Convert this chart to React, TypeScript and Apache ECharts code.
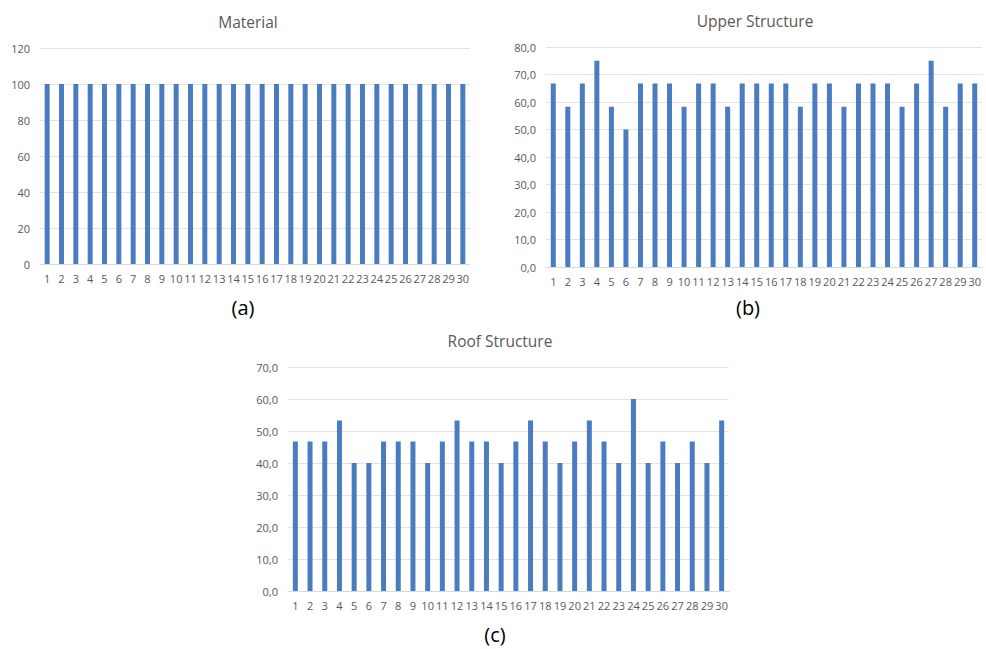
import React, { useEffect, useRef } from "react";
import * as echarts from "echarts";

const categories = Array.from({ length: 30 }, (_, i) => String(i + 1));
const materialValues = [100,100,100,100,100,100,100,100,100,100,100,100,100,100,100,100,100,100,100,100,100,100,100,100,100,100,100,100,100,100];
const upperValues = [66.7,58.3,66.7,75,58.3,50,66.7,66.7,66.7,58.3,66.7,66.7,58.3,66.7,66.7,66.7,66.7,58.3,66.7,66.7,58.3,66.7,66.7,66.7,58.3,66.7,75,58.3,66.7,66.7];
const roofValues = [46.7,46.7,46.7,53.3,40,40,46.7,46.7,46.7,40,46.7,53.3,46.7,46.7,40,46.7,53.3,46.7,40,46.7,53.3,46.7,40,60,40,46.7,40,46.7,40,53.3];
const titles = ["Material", "Upper Structure", "Roof Structure"];
const captions = ["(a)", "(b)", "(c)"];

const FONT = "'Open Sans', 'Noto Sans', sans-serif";
const BAR = "#4a7cc0";
const TXT = "#595959";

export default function App() {
  const ref = useRef<HTMLDivElement>(null);
  useEffect(() => {
    if (!ref.current) return;
    const chart = echarts.init(ref.current, undefined, { renderer: "svg" });
    const grids = [
      { left: 40, right: 516, top: 48, bottom: 385 },
      { left: 546, right: 4, top: 47, bottom: 382 },
      { left: 288, right: 257, top: 367, bottom: 58 },
    ];
    const yCfg = [
      { max: 120, interval: 20, fmt: (v: number) => String(v) },
      { max: 80, interval: 10, fmt: (v: number) => v.toFixed(1).replace(".", ",") },
      { max: 70, interval: 10, fmt: (v: number) => v.toFixed(1).replace(".", ",") },
    ];
    const data = [materialValues, upperValues, roofValues];
    const titlePos = [
      { x: 243, y: 9 },
      { x: 750, y: 8 },
      { x: 495, y: 328 },
    ];
    const capPos = [
      { x: 243, y: 297 },
      { x: 748, y: 297 },
      { x: 495, y: 624 },
    ];
    chart.setOption({
      animation: false,
      backgroundColor: "#ffffff",
      title: titlePos.map((p, i) => ({
        text: titles[i],
        left: p.x,
        top: p.y,
        textAlign: "center",
        textStyle: { fontFamily: FONT, fontSize: 15.5, fontWeight: "normal", color: TXT },
      })),
      graphic: capPos.map((p, i) => ({
        type: "text",
        x: p.x,
        y: p.y,
        style: {
          text: captions[i],
          fontFamily: FONT,
          fontSize: 20,
          fill: "#000000",
          align: "center",
          verticalAlign: "top",
        },
      })),
      grid: grids,
      xAxis: grids.map((_, i) => ({
        type: "category",
        gridIndex: i,
        data: categories,
        axisTick: { show: false },
        axisLine: { lineStyle: { color: "#d9d9d9" } },
        axisLabel: { interval: 0, fontFamily: FONT, fontSize: 11, color: TXT, margin: 9 },
      })),
      yAxis: yCfg.map((c, i) => ({
        type: "value",
        gridIndex: i,
        min: 0,
        max: c.max,
        interval: c.interval,
        axisLine: { show: false },
        axisTick: { show: false },
        splitLine: { lineStyle: { color: "#e3e3e3" } },
        axisLabel: { fontFamily: FONT, fontSize: 11, color: TXT, margin: 10, formatter: c.fmt },
      })),
      series: data.map((d, i) => ({
        type: "bar",
        xAxisIndex: i,
        yAxisIndex: i,
        data: d,
        barWidth: 5,
        itemStyle: { color: BAR },
      })),
    });
    return () => chart.dispose();
  }, []);
  return (
    <div
      ref={ref}
      style={{ position: "fixed", left: 0, top: 0, width: 986, height: 649 }}
    />
  );
}
